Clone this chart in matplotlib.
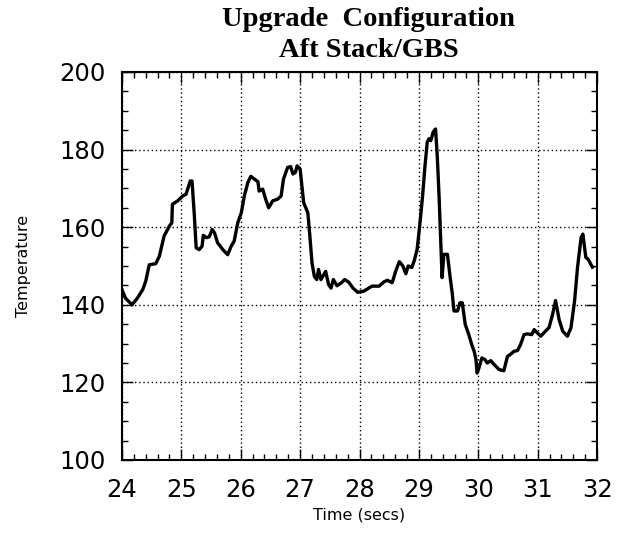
import matplotlib
matplotlib.use("Agg")
import matplotlib.pyplot as plt
from matplotlib.ticker import MultipleLocator

time_s = [24.00, 24.06, 24.17, 24.26, 24.35, 24.40, 24.46, 24.57, 24.63, 24.71,
          24.80, 24.84, 24.85, 24.94, 25.02, 25.08, 25.15, 25.18, 25.22, 25.25,
          25.30, 25.35, 25.37, 25.42, 25.47, 25.52, 25.56, 25.61, 25.70, 25.78,
          25.84, 25.89, 25.95, 26.01, 26.06, 26.12, 26.17, 26.23, 26.29, 26.31,
          26.37, 26.42, 26.47, 26.54, 26.62, 26.68, 26.72, 26.79, 26.84, 26.88,
          26.92, 26.95, 27.00, 27.03, 27.06, 27.13, 27.16, 27.20, 27.24, 27.28,
          27.31, 27.35, 27.43, 27.48, 27.52, 27.56, 27.62, 27.69, 27.75, 27.82,
          27.89, 27.97, 28.07, 28.21, 28.33, 28.41, 28.47, 28.55, 28.61, 28.67,
          28.73, 28.78, 28.82, 28.88, 28.92, 28.97, 29.01, 29.06, 29.10, 29.14,
          29.17, 29.20, 29.24, 29.28, 29.31, 29.34, 29.37, 29.39, 29.42, 29.48,
          29.52, 29.56, 29.59, 29.65, 29.69, 29.73, 29.78, 29.84, 29.89, 29.93,
          29.96, 29.98, 30.01, 30.06, 30.11, 30.15, 30.21, 30.26, 30.35, 30.43,
          30.49, 30.54, 30.60, 30.66, 30.71, 30.77, 30.83, 30.90, 30.94, 30.99,
          31.05, 31.13, 31.19, 31.25, 31.30, 31.36, 31.42, 31.50, 31.56, 31.62,
          31.67, 31.73, 31.76, 31.81, 31.85, 31.92]
temperature = [143.9, 141.7, 140.0, 141.7, 143.9, 146.0, 150.3, 150.6, 152.5, 157.7,
               160.3, 161.1, 165.9, 166.8, 168.0, 168.5, 171.9, 171.9, 162.9, 154.7,
               154.2, 155.1, 157.9, 157.3, 157.5, 159.4, 158.5, 156.0, 154.2, 152.9,
               155.1, 156.4, 161.1, 163.7, 168.0, 171.5, 173.1, 172.4, 171.7, 169.3,
               169.8, 167.2, 165.0, 166.8, 167.2, 168.0, 172.4, 175.4, 175.6, 173.7,
               174.1, 175.8, 175.0, 170.6, 166.3, 163.7, 158.5, 150.8, 147.3, 146.5,
               149.1, 146.5, 148.6, 145.2, 144.3, 146.5, 144.9, 145.6, 146.5, 145.8,
               144.3, 143.2, 143.5, 144.8, 144.8, 145.9, 146.3, 145.7, 148.7, 151.1,
               150.0, 148.0, 150.0, 149.6, 151.3, 154.3, 159.9, 167.7, 175.4, 181.9,
               182.8, 182.3, 184.5, 185.3, 178.0, 167.7, 155.6, 147.0, 153.0, 153.0,
               147.8, 143.1, 138.4, 138.4, 140.5, 140.5, 134.9, 132.3, 129.7, 128.0,
               125.9, 122.4, 123.7, 126.3, 125.9, 125.0, 125.6, 124.7, 123.3, 123.0,
               126.7, 127.2, 128.0, 128.2, 129.7, 132.3, 132.5, 132.3, 133.6, 132.8,
               131.9, 133.2, 134.1, 137.5, 141.1, 136.2, 133.2, 131.9, 134.1, 140.9,
               149.6, 157.3, 158.2, 152.2, 151.7, 149.7]

x_ticks = [24, 25, 26, 27, 28, 29, 30, 31, 32]
y_ticks = [100, 120, 140, 160, 180, 200]

fig = plt.figure(figsize=(6.22, 5.33), dpi=100)
ax = fig.add_axes([0.196, 0.137, 0.764, 0.728])

ax.plot(time_s, temperature, color="black", linewidth=2.4)

ax.set_xlim(24, 32)
ax.set_ylim(100, 200)
ax.set_xticks(x_ticks)
ax.set_yticks(y_ticks)
ax.xaxis.set_minor_locator(MultipleLocator(0.2))
ax.yaxis.set_minor_locator(MultipleLocator(5))
ax.tick_params(which="both", direction="in", top=True, right=True, color="black", width=1.0)
ax.tick_params(which="major", length=8)
ax.tick_params(which="minor", length=4)
ax.tick_params(axis="y", which="major", labelsize=17.5, pad=12)
ax.tick_params(axis="x", which="major", labelsize=17.5, pad=13)
ax.grid(True, which="major", linestyle=(0, (1, 2)), color="black", linewidth=1.0)
for s in ax.spines.values():
    s.set_linewidth(1.5)

ax.set_xlabel("Time (secs)", fontsize=11.5, labelpad=4)
ax.set_ylabel("Temperature", fontsize=11.5, labelpad=20)
fig.text(0.593, 0.987, "Upgrade  Configuration\nAft Stack/GBS", ha="center", va="top",
         fontfamily="Liberation Serif", fontweight="bold", fontsize=20.5, linespacing=1.3)

fig.savefig("out.png", dpi=100)
